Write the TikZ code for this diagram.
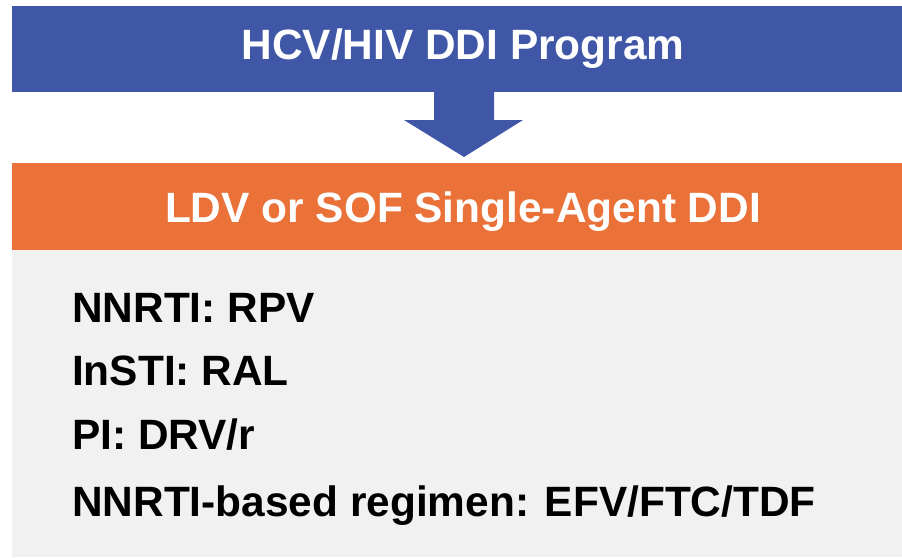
\documentclass[tikz,border=0pt]{standalone}
\usepackage{fontspec}
\setmainfont{Liberation Sans}
\definecolor{hblue}{RGB}{63,87,166}
\definecolor{horange}{RGB}{234,114,57}
\definecolor{bgray}{RGB}{241,241,241}
\begin{document}
\begin{tikzpicture}[x=1pt,y=-1pt,
  band/.style={rectangle, inner sep=0pt, anchor=north west, minimum width=890pt, minimum height=#1},
  title/.style={inner sep=0pt, anchor=base, text=white, font=\fontsize{42.4}{50}\selectfont\bfseries},
  item/.style={inner sep=0pt, anchor=base west, text=black, font=\fontsize{42.4}{50}\selectfont\bfseries}]
\useasboundingbox (0,0) rectangle (902,557);
\node[band=307pt, fill=bgray] (body) at (12,250) {};
\node[band=86pt, fill=hblue] (hdr) at (12,6) {};
\node[band=87pt, fill=horange] (sub) at (12,163) {};
\node[title] (hdrtext) at (463,59) {HCV/HIV DDI Program};
\node[title] (subtext) at (463,222) {LDV or SOF Single-Agent DDI};
\fill[hblue] (434,92) -- (494,92) -- (494,120) -- (523,120) -- (464,157) -- (404,120) -- (434,120) -- cycle;
\node[item] (i1) at (72,322) {NNRTI: RPV};
\node[item] (i2) at (72,385) {InSTI: RAL};
\node[item] (i3) at (72,449) {PI: DRV/r};
\node[item] (i4) at (72,516) {NNRTI-based regimen: EFV/FTC/TDF};
\end{tikzpicture}
\end{document}
